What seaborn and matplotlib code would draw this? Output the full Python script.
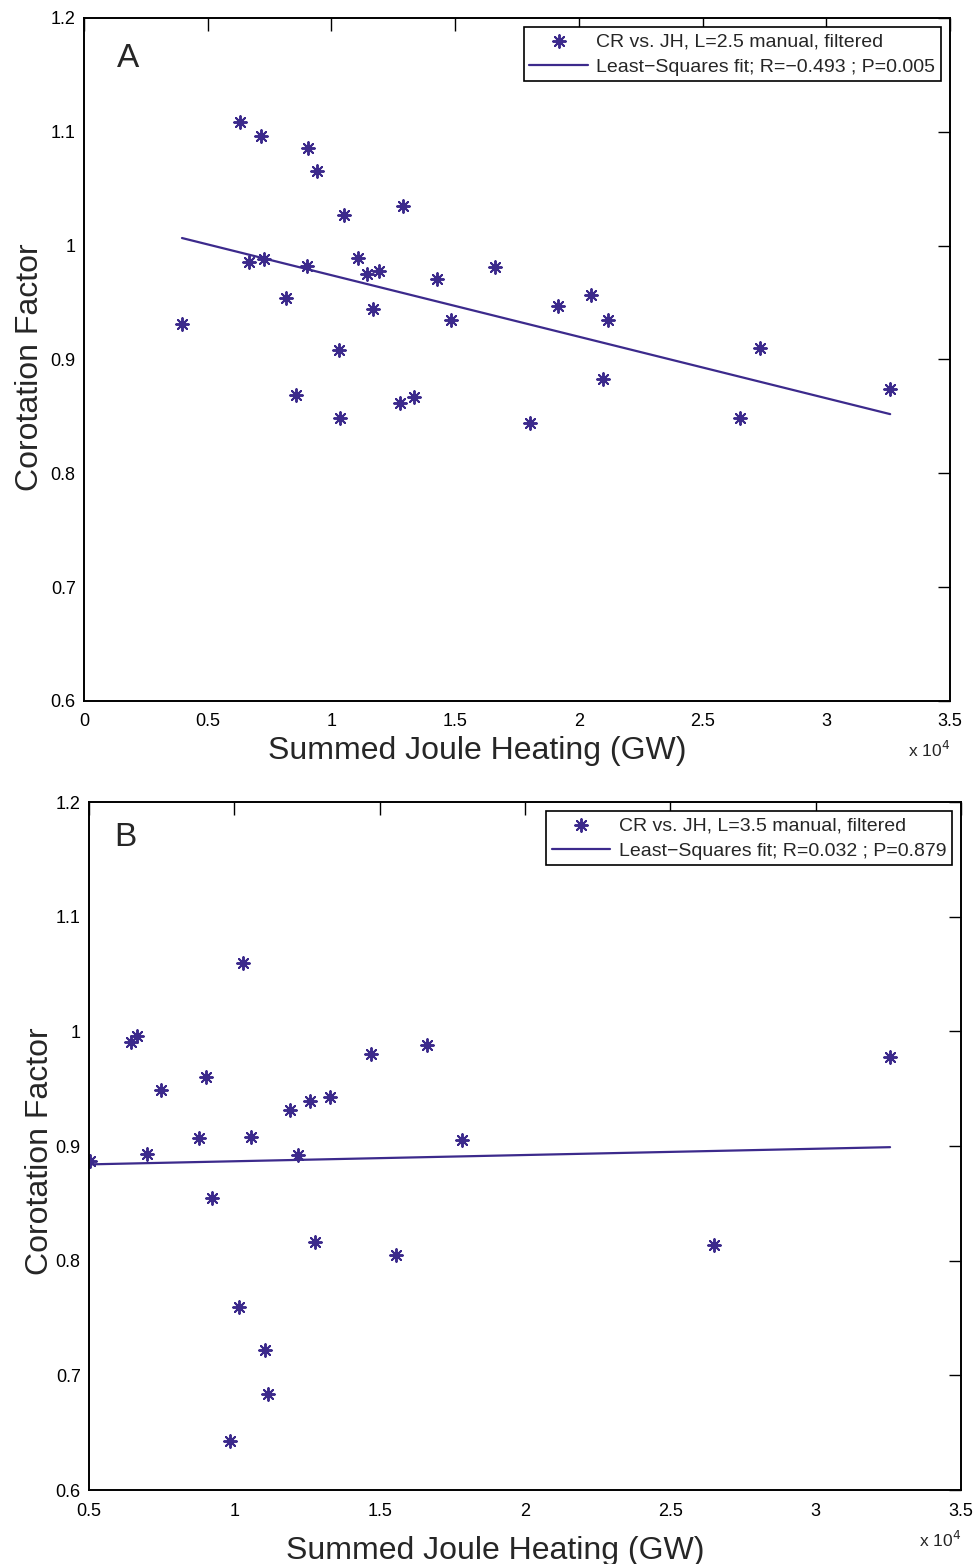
import numpy as np
import pandas as pd
import seaborn as sns
import matplotlib.pyplot as plt

# panel A: L=2.5 (x in units of 10^4 GW)
jh_a = [0.396, 0.631, 0.716, 0.905, 0.942, 1.051, 1.289, 0.667, 0.728, 0.901,
        1.108, 1.144, 1.192, 1.168, 0.816, 1.031, 0.857, 1.035, 1.277, 1.334,
        1.427, 1.483, 1.661, 1.803, 1.916, 2.049, 2.118, 2.098, 2.652, 2.732, 3.258]
cr_a = [0.931, 1.109, 1.096, 1.086, 1.066, 1.027, 1.035, 0.986, 0.988, 0.982,
        0.989, 0.975, 0.978, 0.944, 0.954, 0.908, 0.869, 0.849, 0.862, 0.867,
        0.971, 0.935, 0.981, 0.844, 0.947, 0.957, 0.935, 0.883, 0.849, 0.910, 0.874]
fit_x_a = [0.396, 3.258]
fit_y_a = [1.0067, 0.852]

# panel B: L=3.5
jh_b = [0.503, 0.644, 0.665, 0.700, 0.748, 0.878, 0.903, 0.923, 1.030, 1.057,
        1.016, 1.106, 1.116, 0.985, 1.192, 1.219, 1.260, 1.277, 1.329, 1.470,
        1.556, 1.663, 1.783, 2.650, 3.256]
cr_b = [0.887, 0.991, 0.996, 0.893, 0.949, 0.907, 0.960, 0.855, 1.060, 0.908,
        0.760, 0.722, 0.684, 0.643, 0.931, 0.892, 0.939, 0.816, 0.943, 0.980,
        0.805, 0.988, 0.905, 0.814, 0.978]
fit_x_b = [0.503, 3.256]
fit_y_b = [0.884, 0.899]

labels_a = ["CR vs. JH, L=2.5 manual, filtered",
            "Least\u2212Squares fit; R=\u22120.493 ; P=0.005"]
labels_b = ["CR vs. JH, L=3.5 manual, filtered",
            "Least\u2212Squares fit; R=0.032 ; P=0.879"]

sns.set_style("white")
plt.rcParams['font.family'] = ['Liberation Sans', 'DejaVu Sans']

color = '#3C2A8C'
asterisk = (8, 2, 0)

fig = plt.figure(figsize=(9.77, 15.64), dpi=100)
ax_a = fig.add_axes([0.086, 0.5518, 0.8864, 0.4367])
ax_b = fig.add_axes([0.0911, 0.0473, 0.8925, 0.4399])

panels = [
    (ax_a, jh_a, cr_a, fit_x_a, fit_y_a, labels_a, "A", (0, 3.5),
     [0, 0.5, 1, 1.5, 2, 2.5, 3, 3.5], (0.051, 0.940), (0.454, -0.051), (-0.045, 0.489)),
    (ax_b, jh_b, cr_b, fit_x_b, fit_y_b, labels_b, "B", (0.5, 3.5),
     [0.5, 1, 1.5, 2, 2.5, 3, 3.5], (0.042, 0.948), (0.466, -0.067), (-0.039, 0.493)),
]

for ax, xs, ys, fx, fy, labs, letter, xlim, xticks, letter_pos, xlab_pos, ylab_pos in panels:
    df = pd.DataFrame({'jh': xs, 'cr': ys})
    fit = pd.DataFrame({'jh': fx, 'cr': fy})
    sns.scatterplot(data=df, x='jh', y='cr', ax=ax, marker=asterisk, s=85,
                    color=color, edgecolor=color, linewidth=1.4, label=labs[0])
    sns.lineplot(data=fit, x='jh', y='cr', ax=ax, color=color, linewidth=1.6,
                 label=labs[1])
    ax.set_xlim(*xlim)
    ax.set_ylim(0.6, 1.2)
    ax.set_xticks(xticks)
    ax.set_xticklabels([f"{t:g}" for t in xticks])
    ax.set_yticks([0.6, 0.7, 0.8, 0.9, 1.0, 1.1, 1.2])
    ax.set_yticklabels(["0.6", "0.7", "0.8", "0.9", "1", "1.1", "1.2"])
    ax.tick_params(direction='in', length=9, width=1, top=True, right=True,
                   labelsize=13, colors='black')
    ax.tick_params(axis='x', pad=9)
    ax.tick_params(axis='y', pad=6)
    for sp in ax.spines.values():
        sp.set_visible(True)
        sp.set_color('black')
        sp.set_linewidth(1.4)
    ax.set_xlabel("Summed Joule Heating (GW)", fontsize=23)
    ax.xaxis.set_label_coords(*xlab_pos)
    ax.set_ylabel("Corotation Factor", fontsize=23)
    ax.yaxis.set_label_coords(*ylab_pos)
    ax.text(letter_pos[0], letter_pos[1], letter, transform=ax.transAxes,
            fontsize=24, ha='center', va='center')
    ax.text(1.0, -0.072, "x 10$^{4}$", transform=ax.transAxes, fontsize=12.5,
            ha='right', va='center')
    leg = ax.legend(loc='upper right', fontsize=14, frameon=True, fancybox=False,
                    borderaxespad=0.45, handlelength=3.0, handletextpad=0.45,
                    borderpad=0.3, labelspacing=0.4)
    leg.get_frame().set_edgecolor('black')
    leg.get_frame().set_linewidth(1.2)
    leg.get_frame().set_alpha(1)

fig.savefig("out.png", dpi=100)
